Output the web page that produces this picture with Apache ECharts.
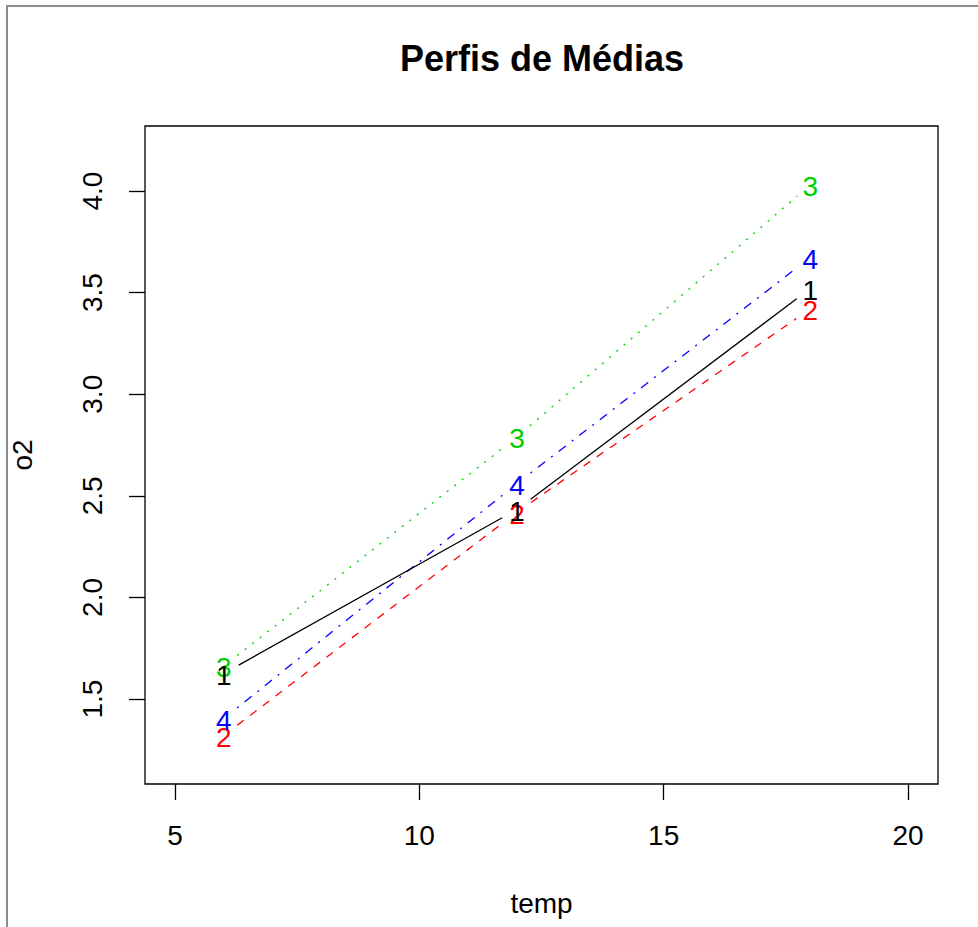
<!DOCTYPE html>
<html>
<head>
<meta charset="utf-8">
<title>Perfis de Médias</title>
<script src="https://cdn.jsdelivr.net/npm/echarts@6/dist/echarts.min.js"></script>
<style>
  html, body { margin: 0; padding: 0; background: #fff; }
  #chart { width: 978px; height: 927px; }
</style>
</head>
<body>
<div id="chart"></div>
<script>
// temperaturas (eixo x)
var temps = [6, 12, 18];
// médias de o2 por grupo
var grupo1 = [1.626, 2.433, 3.52];
var grupo2 = [1.321, 2.42, 3.42];
var grupo3 = [1.663, 2.79, 4.03];
var grupo4 = [1.404, 2.561, 3.673];
// rótulos dos eixos
var xTicks = [5, 10, 15, 20];
var yTicks = [1.5, 2.0, 2.5, 3.0, 3.5, 4.0];

var FONT = '"Liberation Sans", Arial, sans-serif';
var GAP = 17; // espaço em volta do número (tipo "b" do R)

// série com linha interrompida e número em cada ponto
function perfil(nome, vals, cor, dash) {
	return {
		type: 'custom',
		name: nome,
		data: temps.map(function (t, i) { return [t, vals[i]]; }),
		renderItem: function (params, api) {
			var i = params.dataIndex;
			var p = api.coord([api.value(0), api.value(1)]);
			var kids = [{
				type: 'text',
				z2: 10,
				style: {
					text: nome, x: p[0], y: p[1] + 2,
					fill: cor, font: '28px ' + FONT,
					align: 'center', verticalAlign: 'middle'
				}
			}];
			if (i < temps.length - 1) {
				var q = api.coord([temps[i + 1], vals[i + 1]]);
				var dx = q[0] - p[0], dy = q[1] - p[1];
				var len = Math.sqrt(dx * dx + dy * dy);
				var ux = dx / len, uy = dy / len;
				kids.push({
					type: 'line',
					shape: {
						x1: p[0] + ux * GAP, y1: p[1] + uy * GAP,
						x2: q[0] - ux * GAP, y2: q[1] - uy * GAP
					},
					style: { stroke: cor, lineWidth: 1.3, lineDash: dash, fill: null }
				});
			}
			return { type: 'group', children: kids };
		}
	};
}

var chart = echarts.init(document.getElementById('chart'), null, { renderer: 'svg' });
chart.setOption({
	backgroundColor: '#ffffff',
	animation: false,
	title: {
		text: 'Perfis de Médias',
		left: 395,
		top: 35,
		textStyle: { fontSize: 36, fontWeight: 'bold', color: '#000', fontFamily: FONT }
	},
	graphic: [{
		type: 'rect',
		shape: { x: 7, y: 6, width: 1100, height: 1100 },
		style: { fill: null, stroke: '#8c8c8c', lineWidth: 2 },
		silent: true
	}],
	grid: {
		left: 145, right: 40, top: 126, bottom: 143,
		show: true, borderColor: '#000', borderWidth: 1.3,
		containLabel: false
	},
	xAxis: {
		type: 'value',
		min: 4.386, max: 20.614,
		name: 'temp',
		nameLocation: 'middle',
		nameGap: 105,
		nameTextStyle: { fontSize: 28, color: '#000', fontFamily: FONT },
		axisLine: { show: false },
		splitLine: { show: false },
		axisTick: { show: true, length: 16, customValues: xTicks, lineStyle: { color: '#000', width: 1.3 } },
		axisLabel: {
			customValues: xTicks, margin: 37,
			fontSize: 28, color: '#000', fontFamily: FONT
		}
	},
	yAxis: {
		type: 'value',
		min: 1.082, max: 4.32,
		name: 'o2',
		nameLocation: 'middle',
		nameGap: 109,
		nameTextStyle: { fontSize: 28, color: '#000', fontFamily: FONT },
		axisLine: { show: false },
		splitLine: { show: false },
		axisTick: { show: true, length: 16, customValues: yTicks, lineStyle: { color: '#000', width: 1.3 } },
		axisLabel: {
			customValues: yTicks, margin: 39, rotate: 90,
			fontSize: 28, color: '#000', fontFamily: FONT,
			formatter: function (v) { return v.toFixed(1); }
		}
	},
	series: [
		perfil('2', grupo2, '#ff0000', [8, 8]),
		perfil('3', grupo3, '#00cd00', [2, 7.5]),
		perfil('4', grupo4, '#0000ff', [2, 7.5, 9, 7.5]),
		perfil('1', grupo1, '#000000', null)
	]
});
</script>
</body>
</html>
